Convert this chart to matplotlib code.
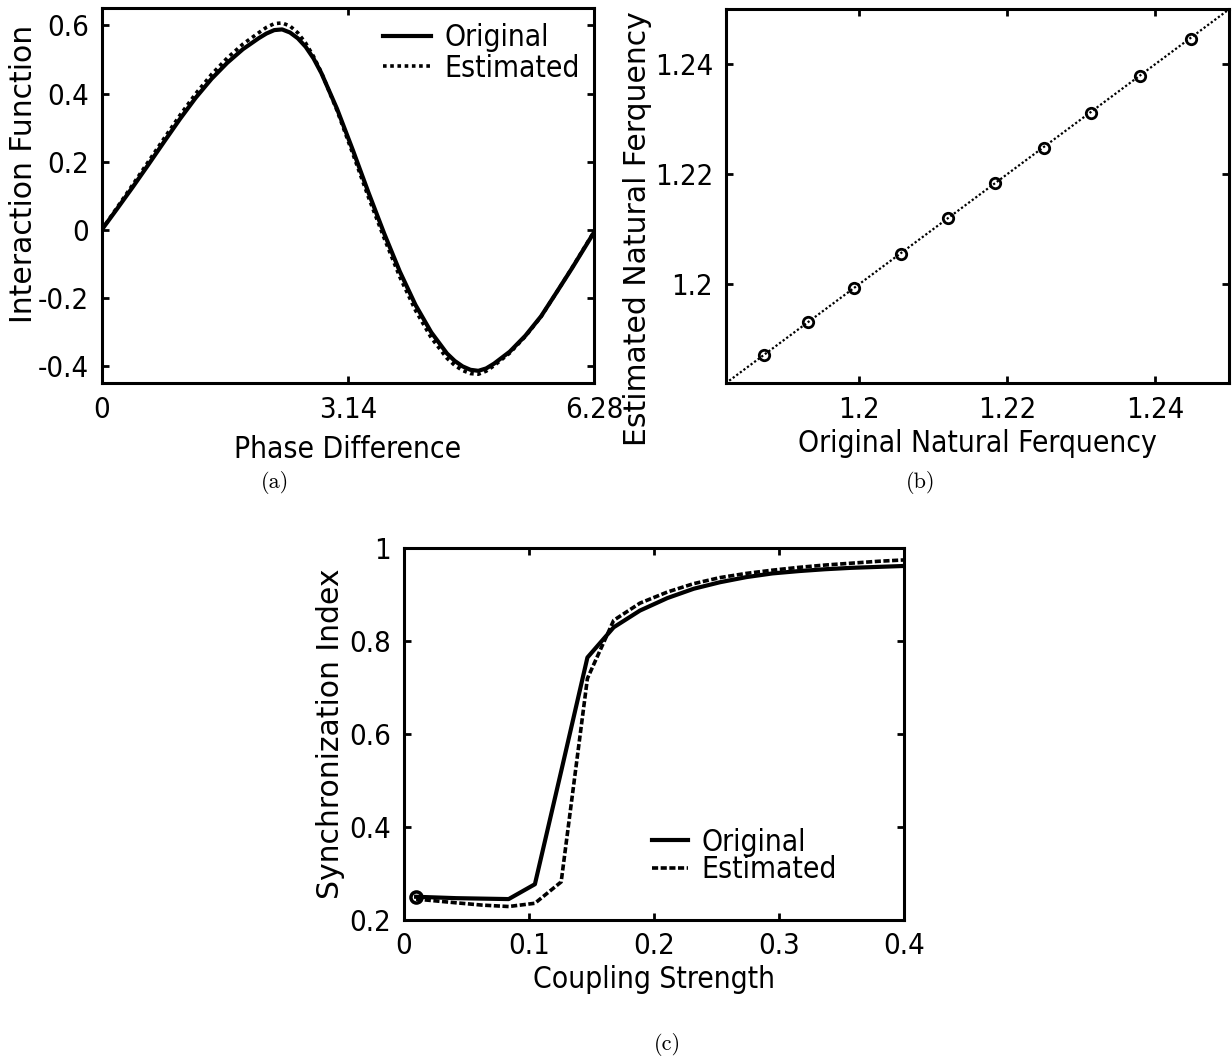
import numpy as np
import matplotlib
matplotlib.use('Agg')
import matplotlib.pyplot as plt

plt.rcParams['font.family'] = ['DejaVu Sans']
plt.rcParams['font.stretch'] = 'condensed'

# (a) interaction function
phase = [0.0, 0.2, 0.4, 0.6, 0.8, 1.0, 1.2, 1.4, 1.6, 1.8, 2.0, 2.1, 2.2,
         2.3, 2.4, 2.5, 2.6, 2.7, 2.8, 3.0, 3.2, 3.4, 3.6, 3.8, 4.0, 4.2,
         4.4, 4.5, 4.6, 4.7, 4.8, 4.9, 5.0, 5.2, 5.4, 5.6, 5.8, 6.0, 6.28]
h_orig = [0.0, 0.063, 0.127, 0.193, 0.260, 0.326, 0.388, 0.443, 0.490, 0.530,
          0.562, 0.576, 0.586, 0.588, 0.579, 0.562, 0.537, 0.503, 0.460,
          0.355, 0.235, 0.110, -0.010, -0.122, -0.220, -0.300, -0.362,
          -0.384, -0.400, -0.410, -0.413, -0.406, -0.392, -0.357, -0.310,
          -0.253, -0.182, -0.110, -0.005]
h_est = [0.0, 0.067, 0.134, 0.202, 0.270, 0.337, 0.400, 0.456, 0.504, 0.545,
         0.578, 0.594, 0.605, 0.607, 0.598, 0.578, 0.548, 0.509, 0.462,
         0.350, 0.224, 0.096, -0.024, -0.138, -0.236, -0.316, -0.376,
         -0.397, -0.412, -0.421, -0.423, -0.414, -0.398, -0.361, -0.312,
         -0.254, -0.182, -0.109, -0.003]

# (b) natural frequencies
w_orig = [1.1872, 1.1931, 1.1993, 1.2057, 1.2120, 1.2184, 1.2250, 1.2313,
          1.2380, 1.2448]
w_est = [1.1872, 1.1932, 1.1994, 1.2055, 1.2120, 1.2184, 1.2248, 1.2312,
         1.2378, 1.2446]

# (c) synchronization index vs coupling strength
coupling = [0.01, 0.042, 0.063, 0.084, 0.105, 0.126, 0.147, 0.168, 0.189,
            0.211, 0.232, 0.253, 0.274, 0.295, 0.316, 0.337, 0.358, 0.379, 0.4]
r_orig = [0.250, 0.247, 0.246, 0.245, 0.277, 0.520, 0.765, 0.830, 0.866,
          0.893, 0.913, 0.927, 0.938, 0.946, 0.951, 0.955, 0.958, 0.960, 0.962]
r_est = [0.245, 0.237, 0.232, 0.229, 0.236, 0.282, 0.720, 0.845, 0.882,
         0.906, 0.924, 0.937, 0.946, 0.953, 0.959, 0.964, 0.968, 0.972, 0.975]

FS = 21.5
TS = 21


def style(ax):
    for s in ax.spines.values():
        s.set_linewidth(2.2)
    ax.tick_params(direction='in', length=5, width=2, top=True, right=True,
                   labelsize=TS, pad=9)


def ylab(ax, text, x, y):
    ax.set_ylabel(text, fontsize=FS, fontstretch='normal')
    ax.yaxis.set_label_coords(x, y)


fig = plt.figure(figsize=(12.32, 10.61), dpi=100)

# ---- (a)
ax1 = fig.add_axes([0.0825, 0.6386, 0.400, 0.3536])
ax1.plot(phase, h_orig, color='black', lw=3.0, label='Original')
ax1.plot(phase, h_est, color='black', lw=2.6, linestyle=(0, (1, 1)),
         label='Estimated')
ax1.set_xlim(0, 6.28)
ax1.set_ylim(-0.45, 0.65)
ax1.set_xticks([0, 3.14, 6.28])
ax1.set_xticklabels(['0', '3.14', '6.28'])
ax1.set_yticks([-0.4, -0.2, 0, 0.2, 0.4, 0.6])
ax1.set_yticklabels(['-0.4', '-0.2', '0', '0.2', '0.4', '0.6'])
ax1.set_xlabel('Phase Difference', fontsize=FS, labelpad=8)
ylab(ax1, 'Interaction Function', -0.129, 0.558)
style(ax1)
ax1.legend(loc='upper right', frameon=False, fontsize=FS, handlelength=1.6,
           handletextpad=0.45, labelspacing=0.05, borderaxespad=0.1)

# ---- (b)
ax2 = fig.add_axes([0.589, 0.6387, 0.4086, 0.3525])
lims = (1.182, 1.25)
ax2.plot(lims, lims, color='black', lw=1.6, linestyle=(0, (1, 1)))
ax2.plot(w_orig, w_est, 'o', color='black', mfc='none', ms=7.5, mew=2.0)
ax2.set_xlim(*lims)
ax2.set_ylim(*lims)
ax2.set_xticks([1.2, 1.22, 1.24])
ax2.set_xticklabels(['1.2', '1.22', '1.24'])
ax2.set_yticks([1.2, 1.22, 1.24])
ax2.set_yticklabels(['1.2', '1.22', '1.24'])
ax2.set_xlabel('Original Natural Ferquency', fontsize=FS, labelpad=4)
ylab(ax2, 'Estimated Natural Ferquency', -0.146, 0.415)
style(ax2)

# ---- (c)
ax3 = fig.add_axes([0.3276, 0.1329, 0.406, 0.3503])
ax3.plot(coupling, r_orig, color='black', lw=3.0, label='Original')
ax3.plot(coupling, r_est, color='black', lw=2.6, linestyle=(0, (1.7, 0.7)),
         label='Estimated')
ax3.plot(coupling[0], r_orig[0], 'o', color='black', mfc='none', ms=8, mew=2.5)
ax3.set_xlim(0, 0.4)
ax3.set_ylim(0.2, 1.0)
ax3.set_xticks([0, 0.1, 0.2, 0.3, 0.4])
ax3.set_xticklabels(['0', '0.1', '0.2', '0.3', '0.4'])
ax3.set_yticks([0.2, 0.4, 0.6, 0.8, 1.0])
ax3.set_yticklabels(['0.2', '0.4', '0.6', '0.8', '1'])
ax3.set_xlabel('Coupling Strength', fontsize=FS, labelpad=3)
ylab(ax3, 'Synchronization Index', -0.117, 0.5)
style(ax3)
ax3.legend(loc='lower right', bbox_to_anchor=(0.92, 0.024), frameon=False,
           fontsize=FS, handlelength=1.2, handletextpad=0.45,
           labelspacing=-0.05)

# captions
for x, y, t in [(0.2232, 0.5448, '(a)'), (0.7476, 0.5448, '(b)'),
                (0.5414, 0.0151, '(c)')]:
    fig.text(x, y, t, family='cmr10', fontsize=16, ha='center', va='center')

fig.savefig('out.png', dpi=100)
